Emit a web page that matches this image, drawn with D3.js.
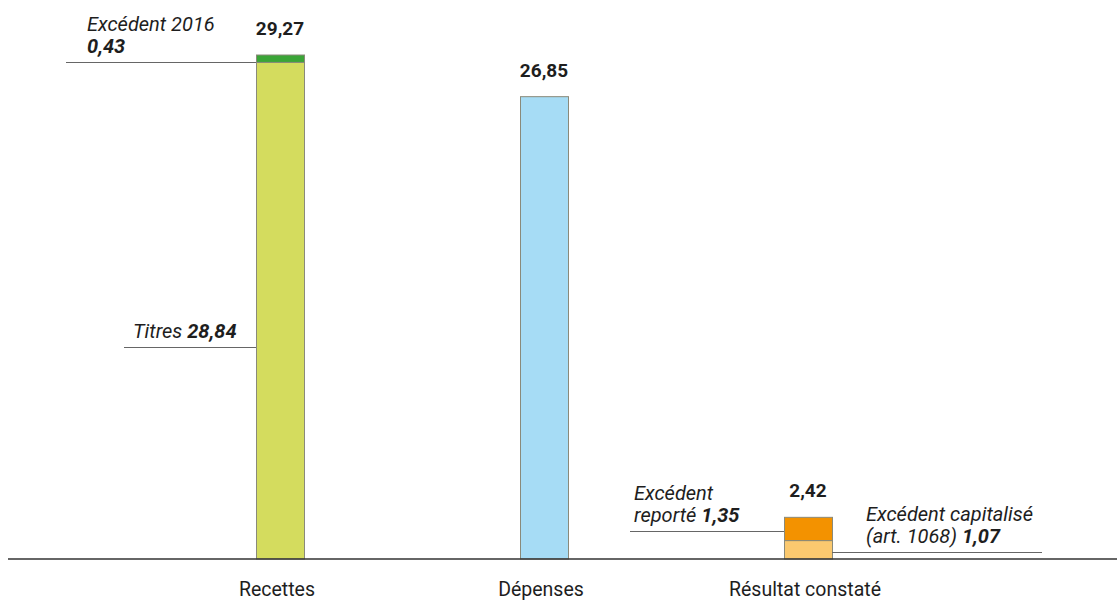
<!DOCTYPE html>
<html>
<head>
<meta charset="utf-8">
<script src="https://cdn.jsdelivr.net/npm/d3@7"></script>
<style>
  body { margin: 0; background: #fff; }
  text { font-family: Roboto, "DejaVu Sans", sans-serif; fill: #1e1e1e; }
</style>
</head>
<body>
<svg id="chart" width="1117" height="601"></svg>
<script>
// categories and totals
const categories = ["Recettes", "Dépenses", "Résultat constaté"]
const totals = ["29,27", "26,85", "2,42"]

// stacked segments (bottom -> top) per category
const recettesParts = [28.84, 0.43]
const depensesParts = [26.85]
const resultatParts = [1.07, 1.35]
const partColors = [["#d4dc5e", "#3aa537"], ["#a6dcf5"], ["#fbc96f", "#f39200"]]

// annotation labels: category, value where the leader sits, text lines ([text, bold])
const annotations = [
  {cat: 0, at: 28.86, side: "left", lines: [[["Excédent 2016", false]], [["0,43", true]]]},
  {cat: 0, at: 12.3, side: "left", lines: [[["Titres ", false], ["28,84", true]]]},
  {cat: 2, at: 1.64, side: "left", lines: [[["Excédent", false]], [["reporté ", false], ["1,35", true]]]},
  {cat: 2, at: 0.42, side: "right", lines: [[["Excédent capitalisé", false]], [["(art. 1068) ", false], ["1,07", true]]]}
]
// leader line outer ends and text starts (pixels)
const leaderEnds = [66, 124, 630, 1042]
const textStarts = [87, 133, 634, 866]

const width = 1117, height = 601
const margin = {top: 55, bottom: 42}
const svg = d3.select("#chart")

const x = d3.scaleBand()
    .domain(categories)
    .range([256, 832])
    .paddingInner(216 / 264)
    .paddingOuter(0)

const y = d3.scaleLinear()
    .domain([0, 29.27])
    .range([height - margin.bottom, margin.top])

const allParts = [recettesParts, depensesParts, resultatParts]

// bars
allParts.forEach((parts, i) => {
  let base = 0
  parts.forEach((v, j) => {
    svg.append("rect")
      .attr("x", x(categories[i]) + 0.5)
      .attr("y", y(base + v))
      .attr("width", x.bandwidth())
      .attr("height", y(base) - y(base + v))
      .attr("fill", partColors[i][j])
      .attr("stroke", "#8a8a7a")
      .attr("stroke-width", 1)
    base += v
  })
  // total label
  svg.append("text")
    .attr("x", x(categories[i]) + x.bandwidth() / 2)
    .attr("y", y(base) - 20)
    .attr("text-anchor", "middle")
    .attr("font-size", 19)
    .attr("font-weight", "bold")
    .text(totals[i])
})

// baseline axis
svg.append("line")
  .attr("x1", 8).attr("x2", width)
  .attr("y1", y(0)).attr("y2", y(0))
  .attr("stroke", "#333").attr("stroke-width", 1.5)

// category labels
svg.selectAll(".cat")
  .data(categories)
  .join("text")
    .attr("class", "cat")
    .attr("x", d => x(d) + x.bandwidth() / 2 - 3)
    .attr("y", 596)
    .attr("text-anchor", "middle")
    .attr("font-size", 19.5)
    .text(d => d)

// annotations with leader lines
annotations.forEach((a, i) => {
  const bx = x(categories[a.cat])
  const ly = Math.round(y(a.at)) + 0.5
  const lx1 = a.side === "left" ? leaderEnds[i] : bx + x.bandwidth()
  const lx2 = a.side === "left" ? bx : leaderEnds[i]
  svg.append("line")
    .attr("x1", lx1).attr("x2", lx2)
    .attr("y1", ly).attr("y2", ly)
    .attr("stroke", "#666").attr("stroke-width", 1)
  const n = a.lines.length
  a.lines.forEach((ln, k) => {
    const t = svg.append("text")
      .attr("x", textStarts[i])
      .attr("y", ly - 9.5 - (n - 1 - k) * 22.5)
      .attr("font-size", 20)
      .attr("font-style", "italic")
    ln.forEach(([s, b]) => {
      t.append("tspan").attr("font-weight", b ? "bold" : "normal").text(s)
    })
  })
})
</script>
</body>
</html>
